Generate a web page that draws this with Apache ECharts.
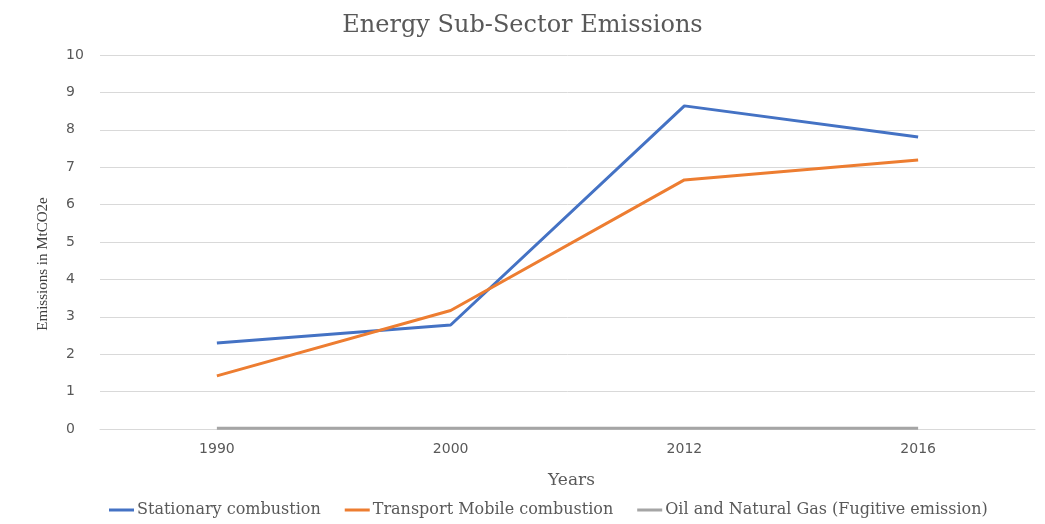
<!DOCTYPE html>
<html>
<head>
<meta charset="utf-8">
<script src="https://cdn.jsdelivr.net/npm/echarts@6/dist/echarts.min.js"></script>
<style>
  html, body { margin: 0; padding: 0; background: #fff; }
  #chart { width: 1045px; height: 524px; }
</style>
</head>
<body>
<div id="chart"></div>
<script>
// Emissions by energy sub-sector (MtCO2e)
const years = ['1990', '2000', '2012', '2016'];
const stationary = [2.30, 2.78, 8.64, 7.81];
const transport = [1.42, 3.17, 6.66, 7.19];
const oilGas = [0.02, 0.02, 0.02, 0.02];
const yTicks = [0, 1, 2, 3, 4, 5, 6, 7, 8, 9, 10];

const serif = '"DejaVu Serif", "Liberation Serif", serif';
const sans = '"DejaVu Sans", "Liberation Sans", sans-serif';

const chart = echarts.init(document.getElementById('chart'), null, { renderer: 'canvas' });

function lineSeries(name, data, color) {
  return {
    name: name,
    type: 'line',
    data: data,
    symbol: 'none',
    lineStyle: { color: color, width: 3 },
    itemStyle: { color: color },
    emphasis: { disabled: true }
  };
}

chart.setOption({
  animation: false,
  backgroundColor: '#ffffff',
  title: {
    text: 'Energy Sub-Sector Emissions',
    left: 'center',
    top: 9,
    textStyle: { fontFamily: serif, fontSize: 24, fontWeight: 'normal', color: '#595959' }
  },
  grid: { left: 100, right: 10, top: 55, bottom: 95, containLabel: false },
  legend: {
    bottom: 1,
    left: 104,
    itemWidth: 25,
    itemHeight: 3,
    itemGap: 24,
    icon: 'rect',
    textStyle: { fontFamily: serif, fontSize: 16, color: '#595959', padding: [0, 0, 0, -2] },
    data: ['Stationary combustion', 'Transport Mobile combustion', 'Oil and Natural Gas (Fugitive emission)']
  },
  xAxis: {
    type: 'category',
    data: years,
    boundaryGap: true,
    name: 'Years',
    nameLocation: 'middle',
    nameGap: 43,
    nameTextStyle: { fontFamily: serif, fontSize: 17, color: '#595959', padding: [0, 0, 0, 8] },
    axisLine: { show: true, lineStyle: { color: '#d9d9d9' } },
    axisTick: { show: false },
    axisLabel: { fontFamily: sans, fontSize: 14, color: '#595959', margin: 13 }
  },
  yAxis: {
    type: 'value',
    min: yTicks[0],
    max: yTicks[yTicks.length - 1],
    interval: 1,
    axisLine: { show: false },
    axisTick: { show: false },
    axisLabel: { fontFamily: sans, fontSize: 14, color: '#595959', margin: 34, align: 'left' },
    splitLine: { lineStyle: { color: '#d9d9d9', width: 1 } }
  },
  graphic: [{
    type: 'text',
    x: 43,
    y: 264,
    rotation: Math.PI / 2,
    style: {
      text: 'Emissions in MtCO2e',
      fontFamily: '"Liberation Serif", serif',
      fontSize: 15,
      fill: '#404040',
      align: 'center',
      verticalAlign: 'middle'
    }
  }],
  series: [
    lineSeries('Stationary combustion', stationary, '#4472C4'),
    lineSeries('Transport Mobile combustion', transport, '#ED7D31'),
    lineSeries('Oil and Natural Gas (Fugitive emission)', oilGas, '#A5A5A5')
  ]
});
</script>
</body>
</html>
